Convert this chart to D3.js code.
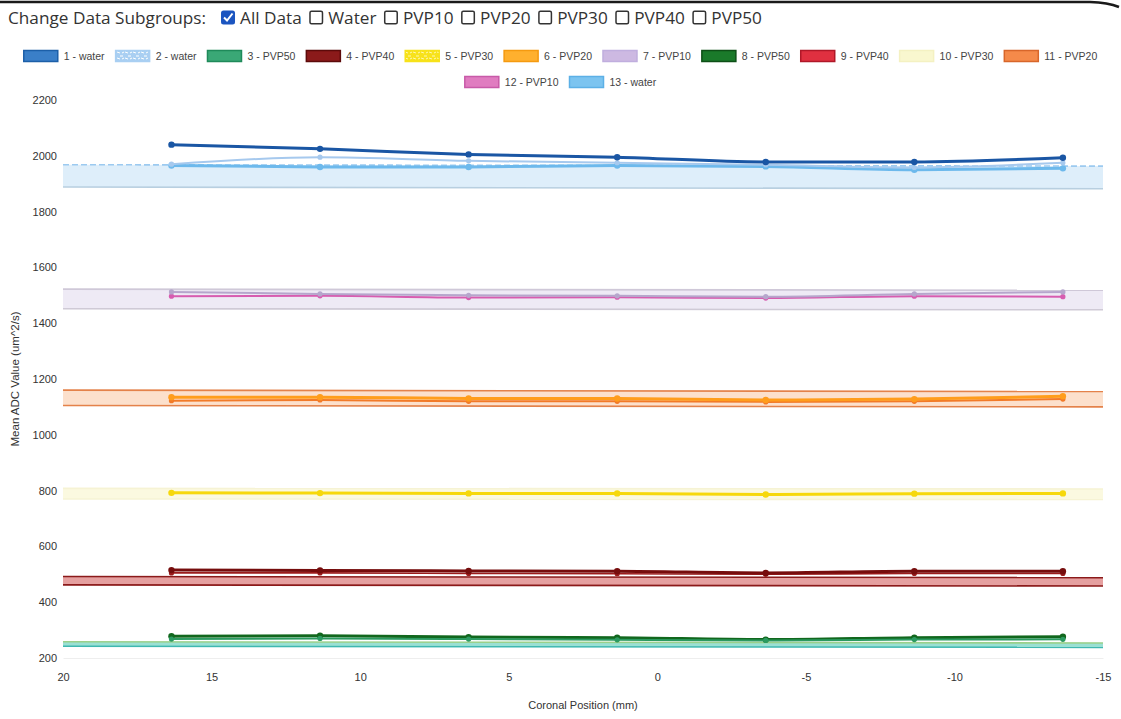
<!DOCTYPE html>
<html><head><meta charset="utf-8">
<script src="https://cdn.jsdelivr.net/npm/d3@7"></script>
<style>body{margin:0;background:#fff;} svg{display:block;}</style>
</head><body><svg id="c" width="1121" height="719"></svg>
<script>
// ---------------- data ----------------
const xPositions = [16.35, 11.35, 6.35, 1.35, -3.65, -8.65, -13.65];
const bandX = [20, -15];
const xTicks = [20, 15, 10, 5, 0, -5, -10, -15];
const yTicks = [200, 400, 600, 800, 1000, 1200, 1400, 1600, 1800, 2000, 2200];
const subgroupOptions = ["All Data", "Water", "PVP10", "PVP20", "PVP30", "PVP40", "PVP50"];
const subgroupChecked = [true, false, false, false, false, false, false];
const legendLabels = ["1 - water", "2 - water", "3 - PVP50", "4 - PVP40", "5 - PVP30", "6 - PVP20",
  "7 - PVP10", "8 - PVP50", "9 - PVP40", "10 - PVP30", "11 - PVP20", "12 - PVP10", "13 - water"];

// line values at xPositions
const line1Water  = [2040, 2025, 2005, 1995, 1978, 1978, 1993];
const line2Water  = [1970, 1995, 1982, 1975, 1968, 1958, 1975];
const line3PVP50  = [268, 270, 268, 265, 263, 266, 267];
const line4PVP40  = [515, 514, 512, 511, 505, 511, 511];
const line5PVP30  = [792, 791, 790, 790, 786, 789, 790];
const line6PVP20  = [1135, 1135, 1130, 1130, 1125, 1128, 1138];
const line7PVP10  = [1512, 1505, 1500, 1498, 1495, 1505, 1512];
const line8PVP50  = [278, 280, 275, 273, 266, 273, 276];
const line9PVP40  = [505, 505, 503, 502, 500, 503, 503];
const line11PVP20 = [1122, 1125, 1120, 1120, 1118, 1120, 1128];
const line12PVP10 = [1497, 1498, 1492, 1493, 1490, 1497, 1495];
const line13Water = [1965, 1960, 1960, 1965, 1962, 1950, 1955];

// reference bands at bandX (high / low)
const band2WaterHi  = [1968, 1963], band2WaterLo  = [1888, 1882];
const band3PVP50Hi  = [258, 254],   band3PVP50Lo  = [242, 238];
const band7PVP10Hi  = [1522, 1518], band7PVP10Lo  = [1452, 1448];
const band9PVP40Hi  = [492, 488],   band9PVP40Lo  = [462, 458];
const band10PVP30Hi = [808, 806],   band10PVP30Lo = [770, 768];
const band11PVP20Hi = [1160, 1155], band11PVP20Lo = [1105, 1100];

const series = [
  {label: legendLabels[0],  line: line1Water},
  {label: legendLabels[1],  line: line2Water,  hi: band2WaterHi,  lo: band2WaterLo},
  {label: legendLabels[2],  line: line3PVP50,  hi: band3PVP50Hi,  lo: band3PVP50Lo},
  {label: legendLabels[3],  line: line4PVP40},
  {label: legendLabels[4],  line: line5PVP30},
  {label: legendLabels[5],  line: line6PVP20},
  {label: legendLabels[6],  line: line7PVP10,  hi: band7PVP10Hi,  lo: band7PVP10Lo},
  {label: legendLabels[7],  line: line8PVP50},
  {label: legendLabels[8],  line: line9PVP40,  hi: band9PVP40Hi,  lo: band9PVP40Lo},
  {label: legendLabels[9],  line: null,        hi: band10PVP30Hi, lo: band10PVP30Lo},
  {label: legendLabels[10], line: line11PVP20, hi: band11PVP20Hi, lo: band11PVP20Lo},
  {label: legendLabels[11], line: line12PVP10},
  {label: legendLabels[12], line: line13Water}
];

// ---------------- styles ----------------
const styles = [
  {sw: "#3a7fc8", swb: "#1c5fa8", line: "#1a56a4", lw: 3},
  {sw: "#a9cff2", swb: "#a9cff2", line: "#a6c9ee", lw: 2, pattern: "pw", band: "rgba(190,222,246,0.5)", bandTop: "#9ccaf0", bandBot: "#b8cfe0", dashTop: true},
  {sw: "#3aa876", swb: "#1f8a5a", line: "#2b9a60", lw: 2, band: "rgba(120,214,196,0.75)", bandTop: "#9ad08a", bandBot: "#3fb8b0"},
  {sw: "#8b1a1a", swb: "#5c0a0a", line: "#760d0d", lw: 3},
  {sw: "#f7e21a", swb: "#f7e21a", line: "#f6d80c", lw: 3, pattern: "py"},
  {sw: "#ffb02e", swb: "#f59a10", line: "#ff9d1c", lw: 3},
  {sw: "#cdb9e2", swb: "#c0aede", line: "#b6a6cc", lw: 2, band: "rgba(226,220,238,0.6)", bandTop: "#cfc8d8", bandBot: "#cfcad6"},
  {sw: "#1a7a2a", swb: "#0d4f16", line: "#11671d", lw: 3},
  {sw: "#e03040", swb: "#b01828", line: "#9c1c1c", lw: 1.6, band: "rgba(226,150,150,0.9)", bandTop: "#8b1a1a", bandBot: "#8b1a1a"},
  {sw: "#f9f7cf", swb: "#f4f1c2", line: "#f4f0c0", lw: 1, band: "rgba(250,248,218,0.85)", bandTop: "#f6f3d4", bandBot: "#f6f3d4"},
  {sw: "#f58a4a", swb: "#d8662a", line: "#f27a28", lw: 2, band: "rgba(251,208,176,0.65)", bandTop: "#e4824a", bandBot: "#e4824a"},
  {sw: "#e07cc0", swb: "#c85aa8", line: "#d75cb0", lw: 2},
  {sw: "#7cc4f0", swb: "#5cb0e6", line: "#6db9ec", lw: 3}
];

// ---------------- layout ----------------
const svg = d3.select("#c");
const defs = svg.append("defs");
function addPattern(id, base, mark) {
  const p = defs.append("pattern").attr("id", id).attr("patternUnits", "userSpaceOnUse")
    .attr("width", 8).attr("height", 6);
  p.append("rect").attr("width", 8).attr("height", 6).attr("fill", base);
  p.append("path").attr("d", "M0,2 L3,2 M5,4 L8,5 M2,5 L4,4").attr("stroke", mark).attr("stroke-width", 1);
}
addPattern("pw", "#a9cff2", "#ffffff");
addPattern("py", "#f7e21a", "#fff6b0");

// top rule
svg.append("path").attr("d", "M0,2 L1090,2 Q1108,2.5 1119,7")
  .attr("fill", "none").attr("stroke", "#1a1a1a").attr("stroke-width", 2.5);

// header
const hdrFont = "'Open Sans', 'Noto Sans', sans-serif";
let hx = 8;
const hdr = svg.append("text").attr("x", hx).attr("y", 24).attr("font-family", hdrFont)
  .attr("font-size", 17.2).attr("fill", "#333").text("Change Data Subgroups:");
hx += hdr.node().getComputedTextLength() + 15;
subgroupOptions.forEach((opt, i) => {
  if (subgroupChecked[i]) {
    svg.append("rect").attr("x", hx).attr("y", 10.5).attr("width", 14).attr("height", 14)
      .attr("rx", 2.5).attr("fill", "#1b55c0");
    svg.append("path").attr("d", `M${hx+3},${17.5} L${hx+6},${20.5} L${hx+11.5},${13.5}`)
      .attr("fill", "none").attr("stroke", "#fff").attr("stroke-width", 2);
  } else {
    svg.append("rect").attr("x", hx + 0.75).attr("y", 11.25).attr("width", 12.5).attr("height", 12.5)
      .attr("rx", 1.5).attr("fill", "#fff").attr("stroke", "#333").attr("stroke-width", 1.5);
  }
  hx += 19;
  const t = svg.append("text").attr("x", hx).attr("y", 24).attr("font-family", hdrFont)
    .attr("font-size", 17.2).attr("fill", "#333").text(opt);
  hx += t.node().getComputedTextLength() + 7.5;
});

// scales
const margin = {left: 63, right: 1103, top: 100, bottom: 658};
const x = d3.scaleLinear().domain([20, -15]).range([margin.left, margin.right]);
const y = d3.scaleLinear().domain([200, 2200]).range([margin.bottom, margin.top]);

// legend
const legFont = "Arial, 'Liberation Sans', sans-serif";
const legG = svg.append("g");
const boxW = 36, boxH = 11, boxGap = 5, itemPad = 10, maxRow = 1100;
const items = series.map((s, i) => {
  const t = legG.append("text").attr("font-family", legFont).attr("font-size", 10.5)
    .attr("fill", "#444").text(s.label);
  return {i, t, w: boxW + boxGap + t.node().getComputedTextLength()};
});
const rows = [[]];
let rowW = 0;
items.forEach(it => {
  const add = (rows[rows.length - 1].length ? itemPad : 0) + it.w;
  if (rowW + add > maxRow && rows[rows.length - 1].length) { rows.push([it]); rowW = it.w; }
  else { rows[rows.length - 1].push(it); rowW += add; }
});
const rowY = [56, 82];
rows.forEach((row, r) => {
  const total = d3.sum(row, d => d.w) + itemPad * (row.length - 1);
  let lx = 560 - total / 2;
  row.forEach(it => {
    const st = styles[it.i];
    legG.append("rect").attr("x", lx + 1).attr("y", rowY[r] - boxH / 2).attr("width", boxW - 2).attr("height", boxH)
      .attr("fill", st.pattern ? `url(#${st.pattern})` : st.sw)
      .attr("stroke", st.swb).attr("stroke-width", 1.5);
    it.t.attr("x", lx + boxW + boxGap).attr("y", rowY[r] + 3.8);
    lx += it.w + itemPad;
  });
});

// axes
const axFont = "Arial, 'Liberation Sans', sans-serif";
const yAxis = svg.append("g").attr("transform", `translate(${margin.left},0)`)
  .call(d3.axisLeft(y).tickValues(yTicks).tickSize(0).tickPadding(6).tickFormat(d => String(d)));
yAxis.select(".domain").remove();
yAxis.selectAll("text").attr("font-family", axFont).attr("font-size", 11).attr("fill", "#333");

const xAxis = svg.append("g").attr("transform", `translate(0,${margin.bottom})`)
  .call(d3.axisBottom(x).tickValues(xTicks).tickSize(0).tickPadding(15).tickFormat(d => String(d)));
xAxis.select(".domain").attr("stroke", "#eeeeee");
xAxis.selectAll("text").attr("font-family", axFont).attr("font-size", 11).attr("fill", "#333");

svg.append("text").attr("transform", `translate(19,${(margin.top + margin.bottom) / 2}) rotate(-90)`)
  .attr("text-anchor", "middle").attr("font-family", axFont).attr("font-size", 11.5).attr("fill", "#333")
  .text("Mean ADC Value (um^2/s)");
svg.append("text").attr("x", (margin.left + margin.right) / 2).attr("y", 709)
  .attr("text-anchor", "middle").attr("font-family", axFont).attr("font-size", 11).attr("fill", "#333")
  .text("Coronal Position (mm)");

// bands
const plot = svg.append("g");
series.forEach((s, i) => {
  if (!s.hi) return;
  const st = styles[i];
  const pts = bandX.map((bx, k) => ({x: bx, hi: s.hi[k], lo: s.lo[k]}));
  plot.append("path").datum(pts)
    .attr("d", d3.area().x(d => x(d.x)).y0(d => y(d.lo)).y1(d => y(d.hi)))
    .attr("fill", st.band);
  plot.append("path").datum(pts)
    .attr("d", d3.line().x(d => x(d.x)).y(d => y(d.hi)))
    .attr("fill", "none").attr("stroke", st.bandTop).attr("stroke-width", 1.6)
    .attr("stroke-dasharray", st.dashTop ? "6,3" : null);
  plot.append("path").datum(pts)
    .attr("d", d3.line().x(d => x(d.x)).y(d => y(d.lo)))
    .attr("fill", "none").attr("stroke", st.bandBot).attr("stroke-width", 1.6);
});

// lines (draw in reverse so dataset 1 sits on top)
const lineGen = d3.line().x(d => x(d.x)).y(d => y(d.v)).curve(d3.curveMonotoneX);
series.slice().reverse().forEach((s) => {
  const i = series.indexOf(s);
  if (!s.line) return;
  const st = styles[i];
  const pts = xPositions.map((px, k) => ({x: px, v: s.line[k]}));
  plot.append("path").datum(pts).attr("d", lineGen)
    .attr("fill", "none").attr("stroke", st.line).attr("stroke-width", st.lw);
  plot.selectAll(null).data(pts).enter().append("circle")
    .attr("cx", d => x(d.x)).attr("cy", d => y(d.v)).attr("r", st.lw >= 3 ? 3.2 : 2.6)
    .attr("fill", st.line);
});
</script></body></html>
